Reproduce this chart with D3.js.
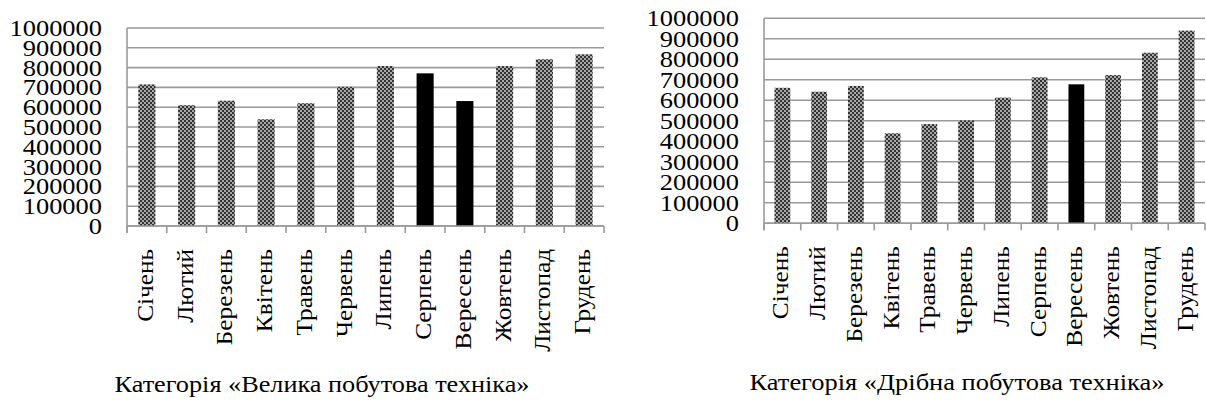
<!DOCTYPE html>
<html>
<head>
<meta charset="utf-8">
<script src="https://cdn.jsdelivr.net/npm/d3@7/dist/d3.min.js"></script>
<style>
  html, body { margin: 0; padding: 0; background: #fff; }
  svg { display: block; }
  text { font-family: "Liberation Serif", "Times New Roman", serif; fill: #000; }
</style>
</head>
<body>
<svg id="chart" width="1206" height="403"></svg>
<script>
// Months of the year (x categories)
const months = ["Січень", "Лютий", "Березень", "Квітень", "Травень", "Червень",
                "Липень", "Серпень", "Вересень", "Жовтень", "Листопад", "Грудень"];

// Sales by month, large household appliances
const bigValues = [715000, 610000, 633000, 539000, 620000, 703000,
                   808000, 771000, 631000, 808000, 842000, 867000];

// Sales by month, small household appliances
const smallValues = [661000, 642000, 670000, 439000, 484000, 502000,
                     613000, 712000, 678000, 723000, 832000, 940000];

// Months shown as solid bars
const bigHighlight = ["Серпень", "Вересень"];
const smallHighlight = ["Вересень"];

// Value axis ticks
const yTicks = [0, 100000, 200000, 300000, 400000, 500000,
                600000, 700000, 800000, 900000, 1000000];

// Chart titles
const bigTitle = "Категорія «Велика побутова техніка»";
const smallTitle = "Категорія «Дрібна побутова техніка»";

const svg = d3.select("#chart");

// Checkerboard fill for the regular bars
const defs = svg.append("defs");
const pat = defs.append("pattern")
  .attr("id", "checker")
  .attr("patternUnits", "userSpaceOnUse")
  .attr("width", 4).attr("height", 4);
pat.append("rect").attr("width", 4).attr("height", 4).attr("fill", "#a8a8a8");
pat.append("rect").attr("x", 0).attr("y", 0).attr("width", 2).attr("height", 2).attr("fill", "#333");
pat.append("rect").attr("x", 2).attr("y", 2).attr("width", 2).attr("height", 2).attr("fill", "#333");

function drawChart(opts) {
  const { left, right, top, bottom, values, highlight, title, titleX, titleY } = opts;
  const g = svg.append("g");

  const x = d3.scaleBand().domain(months).range([left, right]).paddingInner(0.57).paddingOuter(0.285);
  const y = d3.scaleLinear().domain([0, 1000000]).range([bottom, top]);

  // Horizontal gridlines
  g.append("g").selectAll("line").data(yTicks).join("line")
    .attr("x1", left).attr("x2", right)
    .attr("y1", d => y(d)).attr("y2", d => y(d))
    .attr("stroke", "#9a9a9a").attr("stroke-width", 1.6);

  // Bars
  g.append("g").selectAll("rect").data(months).join("rect")
    .attr("x", d => x(d))
    .attr("width", x.bandwidth())
    .attr("y", (d, i) => y(values[i]))
    .attr("height", (d, i) => y(0) - y(values[i]))
    .attr("fill", d => highlight.includes(d) ? "#000" : "url(#checker)");

  // Value axis
  const yAxis = g.append("g")
    .attr("transform", `translate(${left},0)`)
    .call(d3.axisLeft(y).tickValues(yTicks).tickSize(0).tickPadding(25).tickFormat(d3.format("d")));
  yAxis.select(".domain").remove();
  yAxis.selectAll("text")
    .style("font-size", "23px")
    .attr("dy", "0.33em")
    .attr("transform", function () {
      const xx = +d3.select(this).attr("x");
      return `translate(${xx},0) scale(1.15,1) translate(${-xx},0)`;
    });

  // Axis lines
  g.append("line")
    .attr("x1", left).attr("x2", left).attr("y1", top).attr("y2", bottom + 7)
    .attr("stroke", "#9a9a9a").attr("stroke-width", 1.6);
  g.append("line")
    .attr("x1", left).attr("x2", right).attr("y1", bottom).attr("y2", bottom)
    .attr("stroke", "#9a9a9a").attr("stroke-width", 1.6);

  // Category boundary ticks
  const step = x.step();
  const bounds = months.map((d, i) => left + i * step).concat([right]);
  g.append("g").selectAll("line").data(bounds).join("line")
    .attr("x1", d => d).attr("x2", d => d)
    .attr("y1", bottom).attr("y2", bottom + 7)
    .attr("stroke", "#9a9a9a").attr("stroke-width", 1.6);

  // Category labels, rotated
  const xAxis = g.append("g")
    .attr("transform", `translate(0,${bottom})`)
    .call(d3.axisBottom(x).tickSize(0).tickPadding(0));
  xAxis.select(".domain").remove();
  xAxis.selectAll("text")
    .style("font-size", "23px")
    .attr("text-anchor", "end")
    .attr("x", 0).attr("y", 0).attr("dy", 0)
    .attr("transform", "translate(6,23) rotate(-90) scale(1.1,1)");

  // Chart caption
  g.append("text")
    .attr("x", titleX).attr("y", titleY)
    .attr("text-anchor", "middle")
    .attr("textLength", 415)
    .attr("lengthAdjust", "spacingAndGlyphs")
    .style("font-size", "24px")
    .text(title);
}

drawChart({
  left: 127, right: 604, top: 28, bottom: 226,
  values: bigValues, highlight: bigHighlight,
  title: bigTitle, titleX: 322, titleY: 392
});

drawChart({
  left: 764, right: 1205, top: 18.3, bottom: 223.3,
  values: smallValues, highlight: smallHighlight,
  title: smallTitle, titleX: 957, titleY: 390
});
</script>
</body>
</html>
